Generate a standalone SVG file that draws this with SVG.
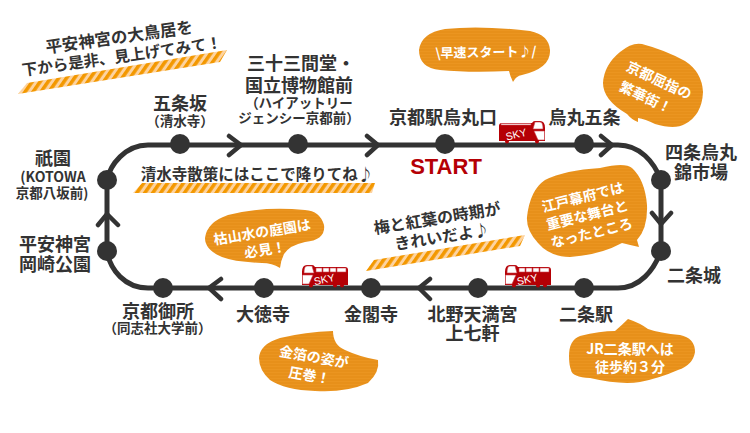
<svg xmlns="http://www.w3.org/2000/svg" width="750" height="433" viewBox="0 0 750 433">
<style>
text{font-family:"Noto Sans CJK JP","Liberation Sans",sans-serif;text-anchor:middle;fill:#333;font-weight:700}
.l{font-size:18px}
.s{font-size:13.500px}
.n{font-size:15.500px}
.w{fill:#fff;font-size:14px}
.b{fill:url(#tx)}
.line{fill:none;stroke:#333;stroke-width:5}
.arr{fill:none;stroke:#333;stroke-width:4.500;stroke-linecap:round}
.dot{fill:#333}
.bus{fill:#b50005}
.win{fill:#fff;stroke:#c9404a;stroke-width:.6}
.sky{fill:#fff;font-size:10.500px;font-weight:400;font-family:"Liberation Sans",sans-serif}
</style>
<defs>
<pattern id="st" width="6.500" height="10" patternUnits="userSpaceOnUse" patternTransform="rotate(35)">
<rect width="6.500" height="10" fill="#fdd3a0"/><rect width="3.500" height="10" fill="#f39800"/>
</pattern>
<pattern id="tx" width="6" height="3" patternUnits="userSpaceOnUse">
<rect width="6" height="3" fill="#eb9520"/><rect y="1.500" width="6" height="1" fill="#e38c14"/>
</pattern>
<g id="busL">
<path class="bus" d="M0 21V8Q0 1 5 1H10Q12 1 13 3H43Q46 3 46 6V21Z"/>
<path class="win" d="M2 9Q2 2 5 2H10L12 9ZM14 4H20V8H14ZM21 4H27V8H21ZM28 4H34V8H28ZM35 4H44V8H35ZM.5 11H11L7 20H.5Z"/>
<circle class="bus" cx="9" cy="21.500" r="2"/><circle class="bus" cx="33" cy="21.500" r="2"/><circle class="bus" cx="40" cy="21.500" r="2"/>
</g>
<g id="busR">
<path class="bus" d="M0 21V8Q0 1 5 1H10Q12 1 13 3H43Q46 3 46 6V21Z"/>
<path class="win" d="M2 9Q2 2 5 2H10L12 9ZM14 3.500H44V5H14ZM.5 11H11L7 20H.5Z"/>
<circle class="bus" cx="8" cy="21.500" r="2"/><circle class="bus" cx="38" cy="21.500" r="2"/>
</g>
</defs>

<g id="connectors">
<path class="line" d="M107 180C110 165 125 145 148 145H618C640 145 654 162 661 180V251C654 270 640 288 618 288H148C125 288 110 270 107 251Z"/>
<path class="arr" d="M229 136L241 145L229 155M367 136L378 145L367 155M601 136L612 145L601 155M652 213L661 224L671 213M430 279L419 288L430 299M221 279L209 288L221 299M98 225L107 214L118 225"/>
</g>

<g id="callouts">
<path class="b" d="M419 50Q421 33 445 29Q480 25 530 31Q549 35 550 50Q551 68 522 75Q516 76 513 82Q510 76 509 71Q470 73 440 70Q419 68 419 50Z"/>
<path class="b" d="M603 83Q604 65 620 52Q632 42 642 44Q665 50 685 61Q702 72 703 92Q702 115 685 124Q675 130 655 124Q645 119 638 118L638 122Q632 120 627 114Q603 100 603 83Z"/>
<path class="b" d="M527 217Q530 190 545 180Q565 170 600 168Q625 162 632 168Q645 180 647 205Q648 228 637 240L639 247Q630 245 622 243Q600 255 570 257Q550 257 538 243Q526 230 527 217Z"/>
<path class="b" d="M205 238Q207 222 228 215Q262 206 305 210Q320 211 324 225Q326 240 305 242Q290 245 284 254Q281 260 280 268Q272 263 262 263Q235 262 222 257Q205 250 205 238Z"/>
<path class="b" d="M259 358Q260 344 280 338Q305 332 333 331Q333 345 345 350Q360 357 378 360Q380 372 368 383Q345 393 315 391Q285 390 270 380Q259 370 259 358Z"/>
<path class="b" d="M569 356Q569 340 580 336Q600 331 615 331Q622 325 628 319Q640 323 648 329Q660 333 680 335Q695 338 695 352Q693 365 678 370Q660 378 640 382Q620 385 590 378Q572 377 571 370Q569 365 569 356Z"/>
<text class="w" x="486" y="57" style="font-size:13px" transform="rotate(-1 486 57)">\早速スタート♪/</text>
<text class="w" transform="translate(657 85) rotate(25)"><tspan x="0" y="0">京都屈指の</tspan><tspan x="-5" y="21">繁華街！</tspan></text>
<text class="w" transform="translate(584 202) rotate(-14)"><tspan x="0" y="0">江戸幕府では</tspan><tspan x="0" y="18.500">重要な舞台と</tspan><tspan x="0" y="37">なったところ</tspan></text>
<text class="w" transform="translate(263 237) rotate(-9)"><tspan x="0" y="0">枯山水の庭園は</tspan><tspan x="0" y="18">必見！</tspan></text>
<text class="w" transform="translate(313 362) rotate(10)"><tspan x="0" y="0">金箔の姿が</tspan><tspan x="-1" y="19">圧巻！</tspan></text>
<text class="w" x="630" y="354">JR二条駅へは<tspan x="630" y="372">徒歩約３分</tspan></text>
</g>

<g id="notes">
<path d="M18 94L27 83L227 50L220 62Z" fill="url(#st)"/>
<path d="M133 193L142 183H375L372 193Z" fill="url(#st)"/>
<path d="M366 271L374 260L525 235L520 246Z" fill="url(#st)"/>
<text class="n" transform="translate(120 43) rotate(-8)"><tspan x="0" y="0" style="font-size:16.500px">平安神宮の大鳥居を</tspan><tspan x="0" y="19">下から是非、見上げてみて！</tspan></text>
<text class="n" x="257" y="180">清水寺散策にはここで降りてね♪</text>
<text class="n" transform="translate(438 224) rotate(-9)" style="font-size:16px"><tspan x="0" y="0">梅と紅葉の時期が</tspan><tspan x="2" y="19">きれいだよ♪</tspan></text>
</g>

<g id="bus1"><use href="#busR" transform="translate(545 120) scale(-1 1)"/><text class="sky" transform="translate(517 138) rotate(-14)">SKY</text></g>
<g id="bus2"><use href="#busL" x="302" y="264"/><text class="sky" transform="translate(325 283) rotate(-12)">SKY</text></g>
<g id="bus3"><use href="#busL" x="505" y="264"/><text class="sky" transform="translate(528 283) rotate(-12)">SKY</text></g>

<g id="start"><text x="446" y="174" style="fill:#b50005;font-family:'Liberation Sans',sans-serif;font-size:22px">START</text></g>

<g id="st-gion"><circle class="dot" cx="107" cy="180" r="10"/><text class="l" x="53" y="165">祇園<tspan class="s" x="53" y="182" style="font-size:14px">(KOTOWA</tspan><tspan class="s" x="52" y="198">京都八坂前)</tspan></text></g>
<g id="st-gojozaka"><circle class="dot" cx="180" cy="144" r="10"/><text class="l" x="180" y="110">五条坂<tspan class="s" x="180" y="126">（清水寺）</tspan></text></g>
<g id="st-sanjusangendo"><circle class="dot" cx="298" cy="144" r="10"/><text class="l" x="301" y="70">三十三間堂・<tspan x="299" y="92">国立博物館前</tspan><tspan class="s" x="299" y="108">（ハイアットリー</tspan><tspan class="s" x="299" y="122.500">ジェンシー京都前）</tspan></text></g>
<g id="st-kyotoeki"><circle class="dot" cx="445" cy="144" r="10"/><text class="l" x="443" y="123.500">京都駅烏丸口</text></g>
<g id="st-karasuma"><circle class="dot" cx="584" cy="144" r="10"/><text class="l" x="584.500" y="123.500">烏丸五条</text></g>
<g id="st-shijo"><circle class="dot" cx="661" cy="180" r="10"/><text class="l" x="701" y="158.500">四条烏丸<tspan x="701" y="178.500">錦市場</tspan></text></g>
<g id="st-nijojo"><circle class="dot" cx="661" cy="251" r="10"/><text class="l" x="694" y="281.500">二条城</text></g>
<g id="st-nijoeki"><circle class="dot" cx="584" cy="288" r="10"/><text class="l" x="586" y="320.500">二条駅</text></g>
<g id="st-kitano"><circle class="dot" cx="478" cy="288" r="10"/><text class="l" x="472.500" y="320.500">北野天満宮<tspan x="472.500" y="339.500">上七軒</tspan></text></g>
<g id="st-kinkakuji"><circle class="dot" cx="371" cy="288" r="10"/><text class="l" x="371" y="320.500">金閣寺</text></g>
<g id="st-daitokuji"><circle class="dot" cx="264" cy="288" r="10"/><text class="l" x="263" y="320.500">大徳寺</text></g>
<g id="st-gosho"><circle class="dot" cx="163" cy="288" r="10"/><text class="l" x="158" y="317.500">京都御所<tspan class="s" x="157.500" y="333">（同志社大学前）</tspan></text></g>
<g id="st-heian"><circle class="dot" cx="107" cy="251" r="10"/><text class="l" x="55" y="250.500">平安神宮<tspan x="55" y="270.500">岡崎公園</tspan></text></g>
</svg>
